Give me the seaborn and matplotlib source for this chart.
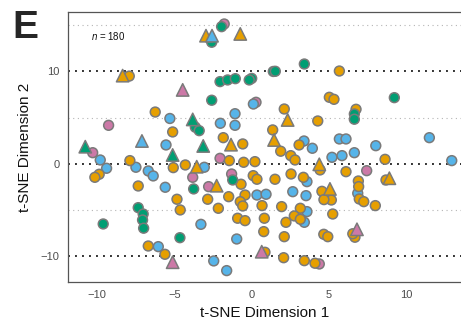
import pandas as pd
import matplotlib.pyplot as plt
import seaborn as sns

# t-SNE coordinates, one pair of lists per colour/marker.
orange_circle_x = [-7.93, -6.25, -5.12, 2.11, 5.03, 5.33, 4.28, 1.36, -1.84, -0.58,
                   3.07, 6.76, 5.68, 1.88, 2.53, 2.81, -1.45, -0.52, 0.21, 4.43,
                   0.10, 0.34, 1.51, 2.55, 3.35, -0.69, -0.43, -1.49, -2.85, -0.74,
                   -0.58, 0.67, 1.94, 3.15, -2.16, -0.91, -0.43, 0.82, 2.76, 3.15,
                   2.22, 0.78, 2.11, 4.67, 4.93, 0.86, 2.07, 3.41, 4.10, 8.64,
                   6.11, 6.91, 6.93, 6.97, 7.26, 8.70, 5.16, 8.01, 5.25, 6.69,
                   6.55, 4.55, 4.68, -9.88, -10.16, -7.89, -7.35, -5.08, -4.30, -4.84,
                   -4.63, -6.70, -5.62]
orange_circle_y = [9.50, 5.60, 3.44, 5.93, 7.20, 6.98, 4.63, 3.66, 2.82, 2.14,
                   2.03, 5.90, 10.05, 1.35, 0.87, 0.40, 0.33, 0.15, 0.22, -0.68,
                   -1.30, -1.69, -1.69, -1.12, -1.48, -2.23, -3.40, -3.58, -3.86, -4.12,
                   -4.59, -4.55, -4.66, -4.84, -4.84, -5.92, -6.18, -5.92, -5.67, -6.03,
                   -6.36, -7.37, -7.92, -7.66, -7.92, -9.61, -10.20, -10.52, -10.80, 0.47,
                   -0.87, -1.88, -2.49, -3.83, -4.12, -1.77, -3.94, -4.55, -5.46, -7.98,
                   -7.60, -3.00, -3.90, -1.15, -1.48, 0.33, -2.42, -0.43, -0.14, -3.86,
                   -5.02, -8.93, -9.83]

blue_circle_x = [-5.30, -5.55, 0.11, -1.08, -2.03, -1.08, 3.39, 3.93, 5.68, 6.11,
                 8.04, 11.51, 5.20, 5.85, 6.65, 12.96, 6.87, -3.07, 3.58, 2.66,
                 3.52, 0.34, 0.93, 3.58, 3.41, -3.29, -0.97, -2.46, -1.62, -9.81,
                 -9.40, -7.50, -6.70, -6.38, -5.60, -6.05]
blue_circle_y = [4.90, 2.03, 6.47, 5.42, 4.38, 4.16, 2.46, 1.67, 2.68, 2.68,
                 1.95, 2.82, 0.69, 0.87, 1.19, 0.33, -3.21, -0.39, -1.95, -3.04,
                 -3.47, -3.40, -3.32, -5.20, -6.36, -6.58, -8.17, -10.55, -11.60, 0.40,
                 -0.50, -0.39, -0.79, -1.33, -2.56, -9.00]

green_circle_x = [-3.65, -3.40, -1.95, -2.59, 3.41, 1.40, 1.53, -2.05, -1.56, -1.06,
                  0.00, -0.16, -2.59, 6.65, 6.65, 9.24, -1.23, -3.76, -7.35, -7.03,
                  -7.07, -7.00, -9.62, -4.65]
green_circle_y = [3.95, 3.58, 14.86, 13.17, 10.81, 10.00, 10.02, 8.90, 9.08, 9.22,
                  9.25, 9.08, 6.88, 5.39, 4.82, 7.16, -1.77, -2.74, -4.77, -5.46,
                  -6.11, -7.00, -6.54, -8.03]

pink_circle_x = [-1.78, -9.27, 0.28, -2.05, -1.30, -2.79, 7.45, 4.38, -10.30, -3.82]
pink_circle_y = [15.15, 4.16, 6.66, 0.58, -1.12, -2.49, -0.76, -10.88, 1.19, -1.48]

orange_tri_x = [-8.36, -2.96, -0.74, 2.33, 1.45, -1.34, 4.38, -2.27, 8.92, 5.07, -3.56]
orange_tri_y = [9.55, 13.88, 14.07, 4.74, 2.57, 2.06, -0.07, -2.39, -1.58, -2.74, -0.33]

blue_tri_x = [-7.11, -2.57]
blue_tri_y = [2.46, 13.88]

green_tri_x = [-3.82, -10.78, -3.14, -5.12]
green_tri_y = [4.80, 1.84, 1.92, 0.94]

pink_tri_x = [-4.47, 6.82, 0.65, -5.12]
pink_tri_y = [8.00, -7.12, -9.55, -10.69]

palette = {'orange': '#E69F00', 'blue': '#56B4E9', 'green': '#009E73', 'pink': '#CC79A7'}


def make_df(xs, ys, group):
    return pd.DataFrame({'dim1': xs, 'dim2': ys, 'group': group})


# Draw order: pink under blue under orange under green, triangles on top.
circles = pd.concat([
    make_df(pink_circle_x, pink_circle_y, 'pink'),
    make_df(blue_circle_x, blue_circle_y, 'blue'),
    make_df(orange_circle_x, orange_circle_y, 'orange'),
    make_df(green_circle_x, green_circle_y, 'green'),
], ignore_index=True)
triangles = pd.concat([
    make_df(orange_tri_x, orange_tri_y, 'orange'),
    make_df(blue_tri_x, blue_tri_y, 'blue'),
    make_df(green_tri_x, green_tri_y, 'green'),
    make_df(pink_tri_x, pink_tri_y, 'pink'),
], ignore_index=True)

sns.set_style('white')
plt.rcParams['font.family'] = ['Liberation Sans', 'DejaVu Sans']
plt.rcParams['mathtext.fontset'] = 'custom'
plt.rcParams['mathtext.it'] = 'Liberation Sans:italic'
plt.rcParams['mathtext.rm'] = 'Liberation Sans'

fig = plt.figure(figsize=(4.61, 3.29), dpi=100)
ax = fig.add_axes([0.1475, 0.143, 0.8525, 0.8205])

# reference lines: dark dotted at the labelled ticks, light dotted between
for yv in [-10, 0, 10]:
    ax.axhline(yv, color='#333333', lw=1.4, ls=(0, (1, 2.6)), zorder=0)
for yv in [-5, 5, 15]:
    ax.axhline(yv, color='#b5b5b5', lw=0.8, ls=(0, (1, 3.2)), zorder=0)

sns.scatterplot(data=circles, x='dim1', y='dim2', hue='group', palette=palette,
                marker='o', s=50, edgecolor='#7a7a7a', linewidth=1.1,
                legend=False, ax=ax, zorder=3)
sns.scatterplot(data=triangles, x='dim1', y='dim2', hue='group', palette=palette,
                marker='^', s=80, edgecolor='#7a7a7a', linewidth=1.1,
                legend=False, ax=ax, zorder=4)

ax.set_xlim(-11.9, 13.56)
ax.set_ylim(-12.83, 16.45)
ax.set_xticks([-10, -5, 0, 5, 10])
ax.set_yticks([-10, 0, 10])
ax.tick_params(axis='both', length=4, width=0.9, color='#444444',
               labelsize=8, labelcolor='#4d4d4d', direction='out', pad=2)
for side in ['left', 'bottom', 'top']:
    ax.spines[side].set_color('#555555')
    ax.spines[side].set_linewidth(0.9)
ax.spines['right'].set_visible(False)

ax.set_xlabel('t-SNE Dimension 1', fontsize=11, color='#111111', labelpad=4)
ax.set_ylabel('t-SNE Dimension 2', fontsize=11, color='#111111', labelpad=6)

ax.text(-10.4, 13.85, r'$n$ = 180', fontsize=7, va='center', ha='left', color='#111111')
fig.text(0.027, 0.885, 'E', fontsize=28, fontweight='bold', va='baseline', ha='left')

plt.savefig('out.png', dpi=100)
